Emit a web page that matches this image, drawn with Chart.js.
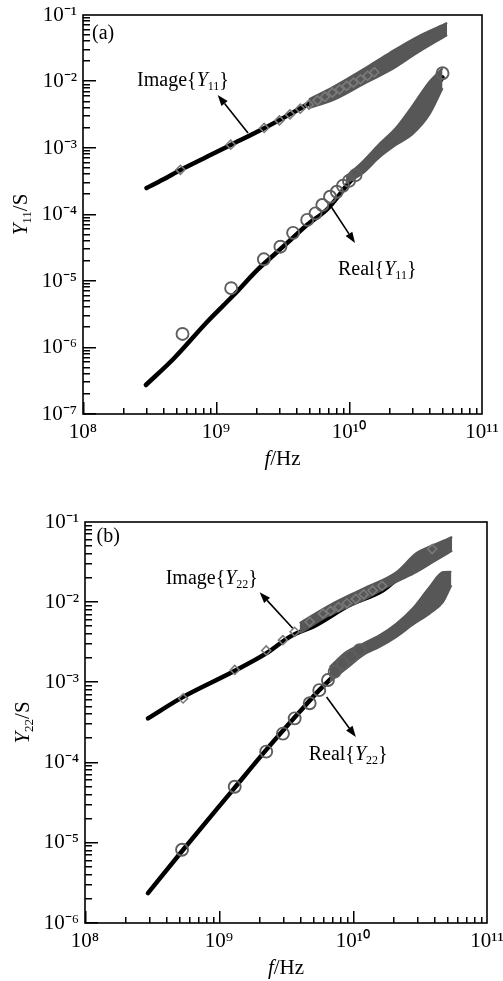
<!DOCTYPE html>
<html><head><meta charset="utf-8">
<script src="https://cdn.jsdelivr.net/npm/chart.js@4.4.1/dist/chart.umd.min.js"></script>
<style>
html,body{margin:0;padding:0;background:#fff;}
#wrap{position:relative;width:503px;height:981px;overflow:hidden;background:#fff;}
canvas{position:absolute;left:0;}
#ca{top:0;} #cb{top:490px;}
</style></head><body>
<div id="wrap"><canvas id="ca" width="503" height="490"></canvas><canvas id="cb" width="503" height="491"></canvas></div>
<script>
// ---------- tick values / labels ----------
const xTickVals = [1e8, 1e9, 1e10, 1e11];
const xTickLabels = ['10⁸', '10⁹', '10¹⁰', '10¹¹'];
const aYTickVals = [1e-7, 1e-6, 1e-5, 1e-4, 1e-3, 1e-2, 1e-1];
const aYTickLabels = ['10⁻⁷', '10⁻⁶', '10⁻⁵', '10⁻⁴', '10⁻³', '10⁻²', '10⁻¹'];
const bYTickVals = [1e-6, 1e-5, 1e-4, 1e-3, 1e-2, 1e-1];
const bYTickLabels = ['10⁻⁶', '10⁻⁵', '10⁻⁴', '10⁻³', '10⁻²', '10⁻¹'];
const minorSteps = [2, 3, 4, 5, 6, 7, 8, 9];

// ---------- chart (a) : Y11 ----------
const aImagSimF = [3.0e8, 4.0e8, 5.4e8, 8.0e8, 1.29e9, 2.3e9, 4.1e9, 7.2e9, 1.37e10, 2.05e10, 3.26e10, 5.0e10];
const aImagSimY = [2.5e-4, 3.35e-4, 4.67e-4, 6.9e-4, 1.11e-3, 1.98e-3, 3.72e-3, 7.0e-3, 1.26e-2, 2.04e-2, 3.55e-2, 5.6e-2];
const aImagMeasF = [5.4e8, 1.29e9, 2.3e9, 3.0e9, 3.6e9, 4.3e9, 5.0e9, 5.8e9, 6.6e9, 7.5e9, 8.5e9, 9.6e9, 1.08e10, 1.22e10, 1.38e10, 1.55e10];
const aImagMeasY = [4.7e-4, 1.12e-3, 2.0e-3, 2.6e-3, 3.2e-3, 3.9e-3, 4.5e-3, 5.2e-3, 5.9e-3, 6.8e-3, 7.6e-3, 8.6e-3, 9.6e-3, 1.08e-2, 1.22e-2, 1.38e-2];
const aImagBandF = [5.0e9, 7.6e9, 1.37e10, 2.05e10, 3.26e10, 5.47e10];
const aImagBandHi = [5.4e-3, 8.3e-3, 1.66e-2, 2.75e-2, 4.7e-2, 7.6e-2];
const aImagBandLo = [4.0e-3, 5.25e-3, 9.8e-3, 1.48e-2, 2.7e-2, 5.0e-2];

const aRealSimF = [2.97e8, 4.84e8, 8.6e8, 1.36e9, 2.04e9, 2.72e9, 3.63e9, 4.85e9, 6.85e9, 1.0e10, 1.27e10, 1.69e10, 2.25e10, 2.71e10, 3.37e10, 4.63e10, 5.05e10];
const aRealSimY = [2.73e-7, 6.9e-7, 2.44e-6, 6.15e-6, 1.46e-5, 2.46e-5, 4.14e-5, 7.0e-5, 1.2e-4, 3.0e-4, 5.0e-4, 9.3e-4, 1.5e-3, 2.3e-3, 3.5e-3, 8.85e-3, 1.15e-2];
const aRealMeasF = [5.6e8, 1.3e9, 2.29e9, 3.05e9, 3.8e9, 4.85e9, 5.6e9, 6.3e9, 7.2e9, 8.1e9, 9.0e9, 1.0e10, 1.12e10, 5.05e10];
const aRealMeasY = [1.6e-6, 7.8e-6, 2.12e-5, 3.28e-5, 5.3e-5, 8.3e-5, 1.04e-4, 1.39e-4, 1.85e-4, 2.2e-4, 2.7e-4, 3.2e-4, 3.9e-4, 1.33e-2];
const aRealBandF = [9.5e9, 1.27e10, 1.69e10, 2.25e10, 3.0e10, 4.0e10, 5.05e10];
const aRealBandHi = [3.75e-4, 6.3e-4, 1.15e-3, 2.0e-3, 4.3e-3, 9.8e-3, 1.58e-2];
const aRealBandLo = [2.94e-4, 4.16e-4, 7.2e-4, 1.11e-3, 1.61e-3, 3.13e-3, 7.9e-3];

// ---------- chart (b) : Y22 ----------
const bImagSimF = [2.95e8, 5.4e8, 1.27e9, 2.25e9, 3.37e9, 5.3e9, 9.4e9, 1.67e10, 2.23e10, 3.53e10, 4.98e10];
const bImagSimY = [3.56e-4, 6.6e-4, 1.36e-3, 2.3e-3, 3.7e-3, 5.2e-3, 9.2e-3, 1.41e-2, 2.07e-2, 3.18e-2, 4.4e-2];
const bImagMeasF = [5.4e8, 1.31e9, 2.25e9, 3.0e9, 3.67e9, 4.75e9, 5.97e9, 6.8e9, 7.8e9, 9.0e9, 1.05e10, 1.2e10, 1.4e10, 1.65e10, 3.9e10];
const bImagMeasY = [6.3e-4, 1.43e-3, 2.5e-3, 3.36e-3, 4.28e-3, 5.7e-3, 7.2e-3, 7.8e-3, 8.7e-3, 9.7e-3, 1.1e-2, 1.25e-2, 1.4e-2, 1.6e-2, 4.6e-2];
const bImagBandF = [4.0e9, 6.7e9, 1.19e10, 2.11e10, 2.97e10, 4.0e10, 5.5e10];
const bImagBandHi = [5.5e-3, 9.2e-3, 1.48e-2, 2.38e-2, 4.1e-2, 5.2e-2, 6.5e-2];
const bImagBandLo = [4.1e-3, 6.9e-3, 1.06e-2, 1.79e-2, 2.37e-2, 3.2e-2, 4.4e-2];

const bRealSimF = [2.95e8, 5.4e8, 1.27e9, 2.25e9, 4.0e9, 5.6e9, 7.1e9, 9.4e9, 1.19e10, 1.58e10, 2.11e10, 2.81e10, 3.73e10, 4.7e10];
const bRealSimY = [2.36e-6, 8.2e-6, 4.57e-5, 1.44e-4, 4.3e-4, 8.0e-4, 1.18e-3, 1.9e-3, 2.5e-3, 3.2e-3, 4.3e-3, 6.3e-3, 9.0e-3, 1.11e-2];
const bRealMeasF = [5.3e8, 1.31e9, 2.25e9, 3.0e9, 3.67e9, 4.75e9, 5.6e9, 6.5e9, 7.3e9, 8.4e9, 9.7e9, 1.12e10];
const bRealMeasY = [8.2e-6, 5.0e-5, 1.37e-4, 2.3e-4, 3.56e-4, 5.5e-4, 8.0e-4, 1.07e-3, 1.36e-3, 1.73e-3, 2.09e-3, 2.52e-3];
const bRealBandF = [6.7e9, 8.93e9, 1.19e10, 1.58e10, 2.11e10, 2.81e10, 3.73e10, 4.7e10, 5.42e10];
const bRealBandHi = [1.56e-3, 2.4e-3, 3.05e-3, 3.88e-3, 5.43e-3, 8.5e-3, 1.55e-2, 2.38e-2, 2.4e-2];
const bRealBandLo = [1.02e-3, 1.49e-3, 2.19e-3, 2.77e-3, 3.7e-3, 5.27e-3, 7.2e-3, 1.01e-2, 1.63e-2];

// ---------- helpers ----------
const FONT = '"Liberation Serif", "Times New Roman", serif';
const pts = (fs, ys) => fs.map((f, i) => ({x: f, y: ys[i]}));

function fontOf(p, size) {
  const s = p.sub ? Math.round(size * 0.62) : size;
  return (p.it ? 'italic ' : '') + s + 'px ' + FONT;
}
function richWidth(ctx, parts, size) {
  let w = 0;
  for (const p of parts) { ctx.font = fontOf(p, size); w += ctx.measureText(p.t).width; }
  return w;
}
function drawRich(ctx, parts, x, yc, size, align) {
  let cx = x;
  if (align === 'center') cx = x - richWidth(ctx, parts, size) / 2;
  const base = yc + size * 0.33;
  ctx.fillStyle = '#000';
  ctx.textBaseline = 'alphabetic';
  ctx.textAlign = 'left';
  for (const p of parts) {
    ctx.font = fontOf(p, size);
    ctx.fillText(p.t, cx, p.sub ? base + size * 0.2 : base);
    cx += ctx.measureText(p.t).width;
  }
}
function arrow(ctx, x1, y1, x2, y2) {
  const ang = Math.atan2(y2 - y1, x2 - x1);
  const L = 11, W = 4;
  const bx = x2 - L * Math.cos(ang), by = y2 - L * Math.sin(ang);
  ctx.strokeStyle = '#000'; ctx.lineWidth = 1.6;
  ctx.beginPath(); ctx.moveTo(x1, y1); ctx.lineTo(bx, by); ctx.stroke();
  ctx.fillStyle = '#000';
  ctx.beginPath();
  ctx.moveTo(x2, y2);
  ctx.lineTo(bx + W * Math.sin(ang), by - W * Math.cos(ang));
  ctx.lineTo(bx - W * Math.sin(ang), by + W * Math.cos(ang));
  ctx.closePath(); ctx.fill();
}

// one decoration plugin per chart: inward ticks, frame, arrows, labels, axis titles
function makeDecor(yDecades, ann) {
  return {
    id: 'decor',
    afterDraw(chart) {
      const ctx = chart.ctx, a = chart.chartArea;
      const xs = chart.scales.x, ys = chart.scales.y;
      ctx.save();
      ctx.fillStyle = '#000';
      for (let i = 0; i < xTickVals.length - 1; i++) {
        const v = xTickVals[i];
        const px0 = Math.round(xs.getPixelForValue(v));
        ctx.fillRect(px0, a.bottom - 12, 1.5, 12);
        for (const m of minorSteps) {
          const px = Math.round(xs.getPixelForValue(v * m));
          ctx.fillRect(px, a.bottom - 6, 1.5, 6);
        }
      }
      for (let i = 0; i < yDecades.length - 1; i++) {
        const v = yDecades[i];
        const py0 = Math.round(ys.getPixelForValue(v));
        ctx.fillRect(a.left, py0 - 1, 13, 1.5);
        for (const m of minorSteps) {
          const py = Math.round(ys.getPixelForValue(v * m));
          ctx.fillRect(a.left, py - 1, 7, 1.5);
        }
      }
      ctx.lineWidth = 1.6;
      ctx.strokeStyle = '#000';
      ctx.strokeRect(a.left, a.top, a.right - a.left, a.bottom - a.top);
      for (const ar of ann.arrows) {
        arrow(ctx, xs.getPixelForValue(ar.f1), ys.getPixelForValue(ar.v1),
                   xs.getPixelForValue(ar.f2), ys.getPixelForValue(ar.v2));
      }
      for (const lb of ann.labels) {
        drawRich(ctx, lb.parts, xs.getPixelForValue(lb.f), ys.getPixelForValue(lb.v), 20, 'left');
      }
      drawRich(ctx, ann.xTitle, (a.left + a.right) / 2, a.bottom + 44, 21, 'center');
      ctx.translate(a.left - 63, (a.top + a.bottom) / 2);
      ctx.rotate(-Math.PI / 2);
      drawRich(ctx, ann.yTitle, 0, 0, 21, 'center');
      ctx.restore();
    }
  };
}

function markerSet(label, data, style) {
  const circ = style === 'circle';
  return {
    label, data, showLine: false,
    pointStyle: circ ? 'circle' : 'rectRot',
    pointRadius: circ ? 6 : 4.5,
    pointBorderWidth: circ ? 1.9 : 1.6,
    pointBorderColor: circ ? '#5e5e5e' : '#7a7a7a',
    pointBackgroundColor: 'rgba(255,255,255,0)',
    borderColor: '#5e5e5e', backgroundColor: 'rgba(0,0,0,0)'
  };
}
function bandSet(label, data, fill) {
  return {
    label, data, fill, showLine: true, pointRadius: 0, cubicInterpolationMode: 'monotone',
    borderColor: '#575757', borderWidth: 2, backgroundColor: '#575757'
  };
}
function simSet(label, data) {
  return {
    label, data, showLine: true, pointRadius: 0, cubicInterpolationMode: 'monotone', fill: false,
    borderColor: '#000', borderWidth: 4.5, borderCapStyle: 'round', borderJoinStyle: 'round'
  };
}

function makeChart(el, c) {
  return new Chart(el, {
    type: 'line',
    data: { datasets: c.datasets },
    options: {
      responsive: false, animation: false, devicePixelRatio: 1,
      layout: { padding: c.padding },
      plugins: { legend: {display: false}, tooltip: {enabled: false} },
      scales: {
        x: {
          type: 'logarithmic', min: 1e8, max: 1e11,
          grid: {display: false, drawTicks: false}, border: {display: false},
          afterBuildTicks: s => { s.ticks = xTickVals.map(v => ({value: v})); },
          afterFit: s => { s.height = c.xHeight; s.paddingLeft = 0; s.paddingRight = 0; },
          ticks: { autoSkip: false, maxRotation: 0, padding: 6, color: '#000',
                   font: {family: FONT, size: 21},
                   callback: v => { const i = xTickVals.indexOf(v); return i < 0 ? '' : xTickLabels[i]; } }
        },
        y: {
          type: 'logarithmic', min: c.yVals[0], max: c.yVals[c.yVals.length - 1],
          grid: {display: false, drawTicks: false}, border: {display: false},
          afterBuildTicks: s => { s.ticks = c.yVals.map(v => ({value: v})); },
          afterFit: s => { s.width = c.yWidth; s.paddingTop = 0; s.paddingBottom = 0; },
          ticks: { autoSkip: false, padding: 6, color: '#000',
                   font: {family: FONT, size: 21},
                   callback: v => { const i = c.yVals.indexOf(v); return i < 0 ? '' : c.yLabels[i]; } }
        }
      }
    },
    plugins: [makeDecor(c.yVals, c.ann)]
  });
}

const IMG = n => [{t: 'Image{'}, {t: 'Y', it: true}, {t: n, sub: true}, {t: '}'}];
const REAL = n => [{t: 'Real{'}, {t: 'Y', it: true}, {t: n, sub: true}, {t: '}'}];
const FHZ = [{t: 'f', it: true}, {t: '/Hz'}];
const YT = n => [{t: 'Y', it: true}, {t: n, sub: true}, {t: '/S'}];

makeChart(document.getElementById('ca'), {
  padding: {left: 0, top: 15, right: 21, bottom: 0},
  xHeight: 76, yWidth: 83,
  yVals: aYTickVals, yLabels: aYTickLabels,
  datasets: [
    markerSet('Real{Y11} measured', pts(aRealMeasF, aRealMeasY), 'circle'),
    markerSet('Image{Y11} measured', pts(aImagMeasF, aImagMeasY), 'diamond'),
    bandSet('Image{Y11} band hi', pts(aImagBandF, aImagBandHi), '+1'),
    bandSet('Image{Y11} band lo', pts(aImagBandF, aImagBandLo), false),
    bandSet('Real{Y11} band hi', pts(aRealBandF, aRealBandHi), '+1'),
    bandSet('Real{Y11} band lo', pts(aRealBandF, aRealBandLo), false),
    simSet('Image{Y11} model', pts(aImagSimF, aImagSimY)),
    simSet('Real{Y11} model', pts(aRealSimF, aRealSimY))
  ],
  ann: {
    labels: [
      {parts: IMG('11'), f: 2.55e8, v: 1.09e-2},
      {parts: REAL('11'), f: 8.26e9, v: 1.57e-5},
      {parts: [{t: '(a)'}], f: 1.17e8, v: 5.5e-2}
    ],
    arrows: [
      {f1: 1.74e9, v1: 1.68e-3, f2: 1.03e9, v2: 6.27e-3},
      {f1: 7.2e9, v1: 1.39e-4, f2: 1.11e10, v2: 3.72e-5}
    ],
    xTitle: FHZ, yTitle: YT('11')
  }
});

makeChart(document.getElementById('cb'), {
  padding: {left: 0, top: 32, right: 16, bottom: 0},
  xHeight: 58, yWidth: 85,
  yVals: bYTickVals, yLabels: bYTickLabels,
  datasets: [
    markerSet('Real{Y22} measured', pts(bRealMeasF, bRealMeasY), 'circle'),
    markerSet('Image{Y22} measured', pts(bImagMeasF, bImagMeasY), 'diamond'),
    bandSet('Image{Y22} band hi', pts(bImagBandF, bImagBandHi), '+1'),
    bandSet('Image{Y22} band lo', pts(bImagBandF, bImagBandLo), false),
    bandSet('Real{Y22} band hi', pts(bRealBandF, bRealBandHi), '+1'),
    bandSet('Real{Y22} band lo', pts(bRealBandF, bRealBandLo), false),
    simSet('Image{Y22} model', pts(bImagSimF, bImagSimY)),
    simSet('Real{Y22} model', pts(bRealSimF, bRealSimY))
  ],
  ann: {
    labels: [
      {parts: IMG('22'), f: 4.0e8, v: 2.05e-2},
      {parts: REAL('22'), f: 4.67e9, v: 1.32e-4},
      {parts: [{t: '(b)'}], f: 1.22e8, v: 6.8e-2}
    ],
    arrows: [
      {f1: 3.55e9, v1: 4.74e-3, f2: 2.01e9, v2: 1.33e-2},
      {f1: 6.35e9, v1: 6.56e-4, f2: 1.05e10, v2: 2.08e-4}
    ],
    xTitle: FHZ, yTitle: YT('22')
  }
});
</script></body></html>
